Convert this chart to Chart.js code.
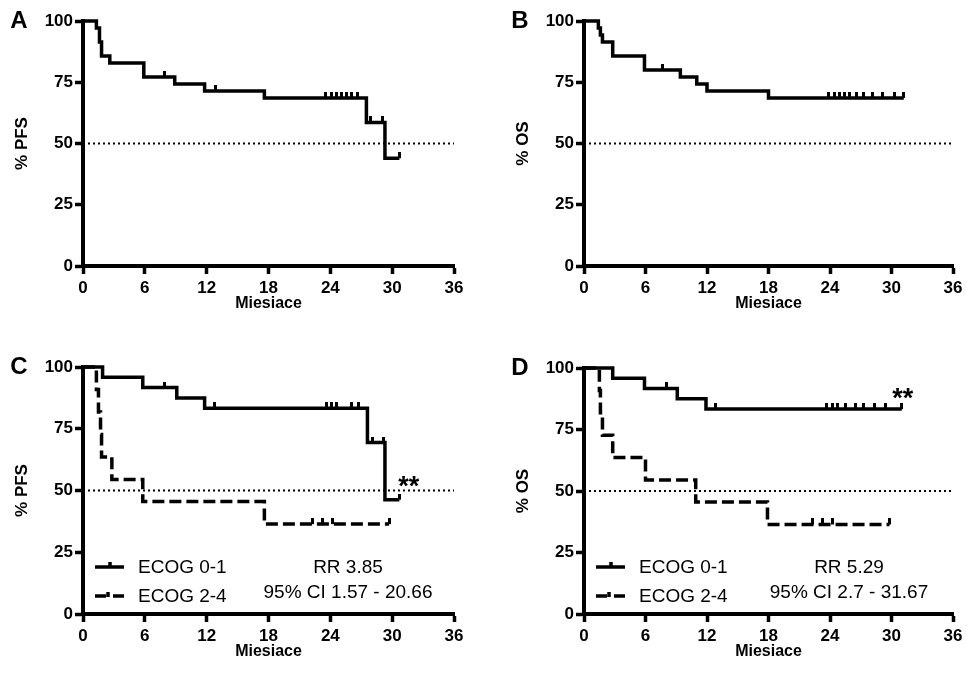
<!DOCTYPE html>
<html>
<head>
<meta charset="utf-8">
<script src="https://cdn.jsdelivr.net/npm/chart.js@4.4.0/dist/chart.umd.min.js"></script>
<style>
  html, body { margin: 0; padding: 0; background: #fff; }
  #wrap { position: relative; width: 967px; height: 676px; }
  canvas { position: absolute; }
</style>
</head>
<body>
<div id="wrap">
  <canvas id="chartA" width="483" height="338" style="left:0;top:0"></canvas>
  <canvas id="chartB" width="484" height="338" style="left:483px;top:0"></canvas>
  <canvas id="chartC" width="483" height="338" style="left:0;top:338px"></canvas>
  <canvas id="chartD" width="484" height="338" style="left:483px;top:338px"></canvas>
</div>
<script>
// tick labels
const monthTicks = [0, 6, 12, 18, 24, 30, 36];
const pctTicks = [0, 25, 50, 75, 100];
const medianLine = 50;

// A: PFS, all patients
const pfsAllT = [0, 1.3, 1.6, 1.8, 2.6, 5.9, 8.9, 11.8, 17.6, 27.5, 29.3, 30.7];
const pfsAllS = [100, 97.1, 91.4, 85.7, 82.9, 77.1, 74.3, 71.4, 68.6, 58.6, 44.0, 44.0];
const pfsAllCens = [7.9, 12.9, 23.5, 24.1, 24.6, 25.1, 25.6, 26.1, 26.6, 27.9, 29.1, 30.7];

// B: OS, all patients
const osAllT = [0, 1.4, 1.6, 1.8, 2.8, 5.9, 9.4, 11.0, 12.0, 18.0, 31.2];
const osAllS = [100, 97.1, 94.3, 91.4, 85.7, 80.0, 77.1, 74.3, 71.4, 68.6, 68.6];
const osAllCens = [7.7, 23.9, 24.4, 24.9, 25.4, 25.9, 26.6, 27.3, 28.1, 29.1, 30.3, 31.2];

// C: PFS by ECOG
const pfsEcog01T = [0, 1.9, 5.8, 9.1, 11.8, 27.6, 29.3, 30.7];
const pfsEcog01S = [100, 95.8, 91.7, 87.5, 83.3, 69.4, 46.3, 46.3];
const pfsEcog01Cens = [7.9, 12.8, 23.6, 24.1, 24.6, 26.1, 26.7, 28.1, 29.2, 30.7];
const pfsEcog24T = [0, 1.3, 1.5, 1.7, 1.8, 2.8, 5.8, 17.6, 29.7];
const pfsEcog24S = [100, 90.9, 81.8, 72.7, 63.6, 54.5, 45.5, 36.4, 36.4];
const pfsEcog24Cens = [22.3, 23.2, 24.2, 29.7];

// D: OS by ECOG
const osEcog01T = [0, 2.8, 5.9, 9.1, 11.9, 31.0];
const osEcog01S = [100, 95.8, 91.7, 87.5, 83.3, 83.3];
const osEcog01Cens = [8.0, 12.8, 23.7, 24.2, 24.7, 25.5, 26.5, 27.3, 28.3, 29.4, 31.0];
const osEcog24T = [0, 1.5, 1.6, 1.8, 2.8, 6.0, 10.9, 17.9, 29.8];
const osEcog24S = [100, 90.9, 81.8, 72.7, 63.6, 54.5, 45.5, 36.4, 36.4];
const osEcog24Cens = [22.3, 23.3, 24.2, 29.8];

const legendLabels = ["ECOG 0-1", "ECOG 2-4"];

Chart.defaults.font.family = "'Liberation Sans', Arial, sans-serif";
Chart.defaults.color = "#000";

// small upward tick used for censored observations
const censorMark = document.createElement("canvas");
censorMark.width = 3;
censorMark.height = 12;
censorMark.getContext("2d").fillRect(0, 0, 3, 6);

function survAt(T, S, t) {
  let v = S[0];
  for (let i = 0; i < T.length; i++) if (T[i] <= t) v = S[i];
  return v;
}

function curveSets(T, S, cens, dashed) {
  return [
    {
      type: "line",
      data: T.map((t, i) => ({ x: t, y: S[i] })),
      stepped: true,
      borderColor: "#000",
      borderWidth: 3.5,
      borderDash: dashed ? [12, 5] : [],
      pointRadius: 0,
      fill: false,
      clip: false,
      order: 1,
    },
    {
      type: "scatter",
      data: cens.map((t) => ({ x: t, y: survAt(T, S, t) })),
      pointStyle: censorMark,
      pointRadius: 4,
      clip: false,
      order: 0,
    },
  ];
}

// panel letter, legend, RR text and stars
const panelDeco = {
  id: "panelDeco",
  afterDraw(chart, args, opts) {
    const { ctx, chartArea: a, scales } = chart;
    ctx.save();
    ctx.fillStyle = "#000";
    ctx.strokeStyle = "#000";
    ctx.textBaseline = "middle";
    ctx.textAlign = "center";
    ctx.font = "bold 24px 'Liberation Sans', Arial";
    ctx.fillText(opts.letter, a.left - 64, a.top);

    if (opts.rr) {
      const y1 = a.bottom - 47, y2 = a.bottom - 18;
      ctx.lineWidth = 3.5;
      // solid sample
      ctx.beginPath();
      ctx.moveTo(a.left + 12, y1); ctx.lineTo(a.left + 41, y1);
      ctx.moveTo(a.left + 27, y1); ctx.lineTo(a.left + 27, y1 - 5);
      ctx.stroke();
      // dashed sample
      ctx.beginPath();
      ctx.moveTo(a.left + 12, y2); ctx.lineTo(a.left + 23, y2);
      ctx.moveTo(a.left + 30, y2); ctx.lineTo(a.left + 41, y2);
      ctx.moveTo(a.left + 25, y2 + 1); ctx.lineTo(a.left + 25, y2 - 4);
      ctx.stroke();

      ctx.font = "19px 'Liberation Sans', Arial";
      ctx.textAlign = "left";
      ctx.fillText(legendLabels[0], a.left + 55, y1 + 1);
      ctx.fillText(legendLabels[1], a.left + 55, y2 + 1);
      ctx.textAlign = "center";
      ctx.fillText(opts.rr[0], a.left + 265, y1 + 1);
      ctx.fillText(opts.rr[1], a.left + 265, a.bottom - 21);
    }
    if (opts.stars) {
      ctx.font = "bold 27px 'Liberation Sans', Arial";
      ctx.textAlign = "center";
      ctx.fillText("**", scales.x.getPixelForValue(opts.stars[0]), scales.y.getPixelForValue(opts.stars[1]));
    }
    ctx.restore();
  },
};

function makePanel(id, p) {
  const datasets = [];
  p.curves.forEach((c) => datasets.push(...curveSets(c[0], c[1], c[2], c[3])));
  datasets.push({
    type: "line",
    data: [{ x: monthTicks[0], y: medianLine }, { x: monthTicks[monthTicks.length - 1], y: medianLine }],
    borderColor: "#000",
    borderWidth: 2,
    borderDash: [2, 3],
    pointRadius: 0,
    order: 3,
  });

  const axisGrid = {
    display: true,
    drawOnChartArea: false,
    drawTicks: true,
    tickLength: 8,
    tickWidth: 3.5,
    tickColor: "#000",
  };

  return new Chart(document.getElementById(id).getContext("2d"), {
    type: "line",
    data: { datasets },
    plugins: [panelDeco],
    options: {
      responsive: false,
      animation: false,
      events: [],
      layout: { padding: { top: p.padTop, right: p.padRight, left: 0, bottom: 0 } },
      plugins: {
        legend: { display: false },
        tooltip: { enabled: false },
        panelDeco: { letter: p.letter, rr: p.rr, stars: p.stars },
      },
      scales: {
        x: {
          type: "linear",
          min: monthTicks[0],
          max: monthTicks[monthTicks.length - 1],
          afterBuildTicks: (s) => { s.ticks = monthTicks.map((v) => ({ value: v })); },
          afterFit: (s) => { s.height = p.xH; },
          border: { display: true, color: "#000", width: 4 },
          grid: axisGrid,
          ticks: { padding: 4, maxRotation: 0, font: { size: 17, weight: "bold" } },
          title: {
            display: true,
            text: "Miesiace",
            font: { size: 16, weight: "bold" },
            padding: { top: 0, bottom: p.xTitlePad },
          },
        },
        y: {
          type: "linear",
          min: pctTicks[0],
          max: pctTicks[pctTicks.length - 1],
          afterBuildTicks: (s) => { s.ticks = pctTicks.map((v) => ({ value: v })); },
          afterFit: (s) => { s.width = p.yW; },
          border: { display: true, color: "#000", width: 4 },
          grid: axisGrid,
          ticks: { padding: 2, font: { size: 17, weight: "bold" } },
          title: {
            display: true,
            text: p.yTitle,
            font: { size: 17, weight: "bold" },
            padding: { top: p.yTitlePad, bottom: 0 },
          },
        },
      },
    },
  });
}

makePanel("chartA", {
  letter: "A", yTitle: "% PFS", yW: 83, xH: 72, padTop: 21, padRight: 29, yTitlePad: 12, xTitlePad: 25,
  curves: [[pfsAllT, pfsAllS, pfsAllCens, false]],
});
makePanel("chartB", {
  letter: "B", yTitle: "% OS", yW: 101, xH: 72, padTop: 21, padRight: 14, yTitlePad: 30, xTitlePad: 25,
  curves: [[osAllT, osAllS, osAllCens, false]],
});
makePanel("chartC", {
  letter: "C", yTitle: "% PFS", yW: 83, xH: 62, padTop: 29, padRight: 29, yTitlePad: 12, xTitlePad: 15,
  rr: ["RR 3.85", "95% CI 1.57 - 20.66"], stars: [31.6, 51],
  curves: [[pfsEcog01T, pfsEcog01S, pfsEcog01Cens, false], [pfsEcog24T, pfsEcog24S, pfsEcog24Cens, true]],
});
makePanel("chartD", {
  letter: "D", yTitle: "% OS", yW: 101, xH: 62, padTop: 30, padRight: 14, yTitlePad: 30, xTitlePad: 15,
  rr: ["RR 5.29", "95% CI 2.7 - 31.67"], stars: [31.1, 87],
  curves: [[osEcog01T, osEcog01S, osEcog01Cens, false], [osEcog24T, osEcog24S, osEcog24Cens, true]],
});
</script>
</body>
</html>
